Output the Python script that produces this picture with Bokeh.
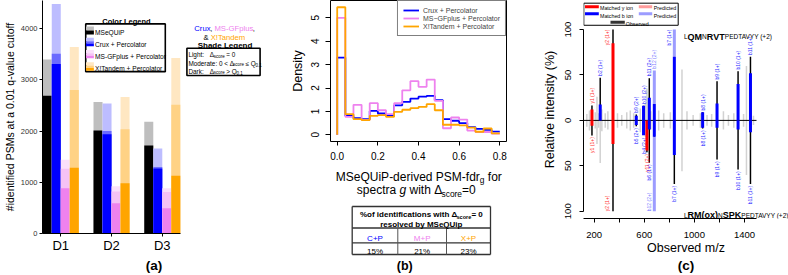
import numpy as np
from bokeh.plotting import figure
from bokeh.models import Range1d, FixedTicker, LinearAxis, Legend, LegendItem
from bokeh.layouts import row, column
from bokeh.embed import file_html
from bokeh.resources import INLINE
from bokeh.core.properties import value

FONT = "Liberation Sans"

# ------------------------------------------------------------------ data (a)
datasets = ["D1", "D2", "D3"]
methods = ["MSeQUiP", "Crux + Percolator", "MS-GFplus + Percolator", "X!Tandem + Percolator"]
mseq_dark = [2690, 2010, 1720]
mseq_total = [3400, 2570, 2180]
crux_dark = [3310, 1940, 1270]
crux_moderate = [3510, 2000, 1300]
crux_total = [4480, 2540, 1660]
msgf_dark = [885, 590, 495]
msgf_moderate = [1265, 820, 810]
msgf_total = [1440, 925, 885]
xt_dark = [1285, 980, 1130]
xt_moderate = [2800, 2035, 2515]
xt_total = [3640, 2665, 3425]
a_yticks = [0, 1000, 2000, 3000, 4000]

# ------------------------------------------------------------------ data (b)
fdr_bins = [0.00, 0.04, 0.08, 0.12, 0.16, 0.20, 0.24, 0.28, 0.32, 0.36, 0.40,
            0.44, 0.48, 0.52, 0.56, 0.60, 0.64, 0.68, 0.72, 0.76, 0.80]
crux_density = [3.30, 0.81, 0.71, 0.67, 1.02, 0.91, 0.84, 1.26, 1.41, 1.55,
                1.63, 1.66, 1.48, 0.67, 0.60, 0.50, 0.33, 0.25, 0.21, 0.14]
msgf_density = [5.00, 0.77, 1.28, 0.64, 1.35, 1.05, 0.88, 1.35, 1.90, 2.29,
                2.05, 2.36, 1.45, 0.28, 0.74, 0.65, 0.18, 0.12, 0.12, 0.05]
xt_density = [5.45, 0.88, 0.67, 0.63, 0.81, 0.84, 0.77, 0.98, 1.07, 1.14,
              1.19, 1.31, 1.05, 0.43, 0.43, 0.40, 0.31, 0.13, 0.27, 0.06]
hist_labels = ["Crux + Percolator", "MS\u2212GFplus + Percolator", "X!Tandem + Percolator"]
b_xticks = [0.0, 0.2, 0.4, 0.6, 0.8]
b_yticks = [0, 1, 2, 3, 4, 5]
table_heads = ["C+P", "M+P", "X+P"]
table_vals = ["15%", "21%", "23%"]

# ------------------------------------------------------------------ data (c)
obs_mz = [141, 162, 182, 208, 222, 235, 248, 261, 288, 309, 350, 386, 420, 460,
          488, 515, 536, 568, 594, 608, 621, 640, 652, 680, 715, 755, 808, 840,
          901, 941, 990, 1048, 1066, 1101, 1138, 1181, 1232, 1272, 1315, 1349,
          1393, 1416, 1448, 1472]
obs_int = [7, 11, 16.5, 9, 26, 8, 47, 12, 8, 10, 100, 8, 6, 9,
           11, 8, 6.5, 13, 16, 18, 35, 46.5, 10, 18, 11, 8, 9, 70,
           56, 10, 6, 8, 9, 6, 7, 43, 10, 6, 8, 54,
           7, 60, 70, 5]
top_mz = [182, 248, 350, 536, 594, 640, 680, 840, 1066, 1181, 1349, 1448]
top_pred = [12, 17.5, 85, 5, 16, 25, 55, 100, 9, 18.5, 40, 52]
top_ion = ["y", "b", "y", "b", "b", "b", "b", "b", "b", "b", "b", "b"]
top_label = ["y1 (1+)", "b2 (1+)", "y2 (1+)", "b9 (2+)", "b10 (2+)", "b11 (2+)",
             "b12 (2+)", "b7 (1+)", "b8 (1+)", "b9 (1+)", "b10 (1+)", "b11 (1+)"]
bot_mz = [182, 350, 536, 594, 621, 640, 680, 840, 1066, 1181, 1349, 1448]
bot_pred = [6, 26, 5, 17, 33, 10, 100, 38, 8, 8, 10, 13]
bot_ion = ["y", "y", "b", "b", "y", "b", "b", "b", "b", "b", "b", "b"]
bot_label = ["y1 (1+)", "y2 (1+)", "b5 (2+)", "b4 (2+)", "y11 (2+)", "b6 (1+)",
             "b12 (2+)", "b7 (1+)", "b8 (1+)", "b9 (1+)", "b10 (1+)", "b11 (1+)"]
c_yticks = [-100, -50, 0, 50, 100]
c_xticks = [200, 400, 600, 800, 1000, 1200, 1400]
c_xlabels = ["200", "", "600", "", "1000", "", "1400"]

# ------------------------------------------------------------------ colours
BLUE, VIOLET, ORANGE = "#0000ff", "#ee82ee", "#ffa500"
SHADES = {
    "mseq": ("#bebebe", None, "#000000"),
    "crux": ("#bdbdff", "#6b6bff", "#0000ff"),
    "msgf": ("#fae0fa", "#f5c2f5", "#ee82ee"),
    "xt": ("#ffe7c2", "#ffd285", "#ffa500"),
}

# ------------------------------------------------------------------ text helpers
_W = {' ': 278, '!': 278, '%': 889, '&': 667, '(': 333, ')': 333, '+': 584, ',': 278,
      '-': 333, '.': 278, '/': 278, ':': 278, '<': 584, '=': 584, '>': 584,
      'A': 667, 'B': 667, 'C': 722, 'D': 722, 'E': 667, 'F': 611, 'G': 778, 'H': 722,
      'I': 278, 'K': 667, 'L': 556, 'M': 833, 'N': 722, 'O': 778, 'P': 667, 'Q': 778,
      'R': 722, 'S': 667, 'T': 611, 'U': 722, 'V': 667, 'W': 944, 'X': 667, 'Y': 667,
      'a': 556, 'b': 556, 'c': 500, 'd': 556, 'e': 556, 'f': 278, 'g': 556, 'h': 556,
      'i': 222, 'j': 222, 'k': 500, 'l': 222, 'm': 833, 'n': 556, 'o': 556, 'p': 556,
      'q': 556, 'r': 333, 's': 500, 't': 278, 'u': 556, 'v': 500, 'w': 722, 'x': 500,
      'y': 500, 'z': 500, '\u0394': 612, '\u2264': 549, '\u2212': 584}
_WB = {'!': 333, 'A': 722, 'B': 722, 'K': 722, 'L': 611, 'b': 611, 'c': 556, 'd': 611,
       'f': 333, 'g': 611, 'h': 611, 'i': 278, 'j': 278, 'k': 556, 'l': 278, 'm': 889,
       'n': 611, 'o': 611, 'p': 611, 'q': 611, 'r': 389, 's': 556, 't': 333, 'u': 611,
       'v': 556, 'w': 778, 'x': 556, 'y': 556}


def tw(s, size, bold=False):
    tot = 0
    for ch in s:
        w = 556 if ch.isdigit() else _W.get(ch, 556)
        if bold:
            w = _WB.get(ch, w)
        tot += w
    return tot * size / 1000.0


def rich(p, fx, fy, x, y, pieces, align="left"):
    """pieces: (text, size, colour, style, dy); x, y in page pixels, y = baseline"""
    widths = [tw(t, s, "bold" in st) for (t, s, c, st, dy) in pieces]
    total = sum(widths)
    cur = x - total / 2 if align == "center" else (x - total if align == "right" else x)
    for (t, s, c, st, dy), w in zip(pieces, widths):
        lead = len(t) - len(t.lstrip(" "))
        shown = t.strip(" ")
        if shown:
            p.text(x=[fx(cur + tw(" " * lead, s))], y=[fy(y + dy)], text=[shown], text_font=value(FONT),
                   text_font_size=value(f"{s}px"), text_color=c,
                   text_font_style=value(st), text_align="left", text_baseline="alphabetic")
        cur += w


def base(yc, size):
    return yc + 0.35 * size


def style_axis(ax, tick_size, label_size, label_style="normal", tick_out=3,
               label_standoff=2, axis_standoff=2):
    ax.major_label_text_font = FONT
    ax.major_label_text_font_size = f"{tick_size}px"
    ax.major_label_text_color = "black"
    ax.axis_label_text_font = FONT
    ax.axis_label_text_font_size = f"{label_size}px"
    ax.axis_label_text_font_style = label_style
    ax.axis_label_text_color = "black"
    ax.minor_tick_line_color = None
    ax.major_tick_in = 0
    ax.major_tick_out = tick_out
    ax.axis_line_color = "black"
    ax.major_tick_line_color = "black"
    ax.major_label_standoff = label_standoff
    ax.axis_label_standoff = axis_standoff


COMMON = dict(output_backend="svg", toolbar_location=None, frame_align=False)

# ================================================================== panel (a)
A_L, A_R, A_T, A_B = 38, 265, 0, 239
A_PXU = 51.67
A_YMAX = 4550


def a_x(px):
    return 0.64 + (px - A_L) / A_PXU


def a_y(py):
    return (A_B - py) / (A_B - A_T) * A_YMAX


pa = figure(width=265, height=275, x_range=Range1d(0.64, a_x(A_R)), y_range=Range1d(0, A_YMAX),
            min_border_left=A_L, min_border_right=0, min_border_top=0, min_border_bottom=275 - A_B,
            outline_line_color=None, **COMMON)
pa.grid.visible = False
BW = 0.1775
xc = np.arange(1, len(datasets) + 1)
layers = [
    (0, mseq_total, SHADES["mseq"][0]), (0, mseq_dark, SHADES["mseq"][2]),
    (1, crux_total, SHADES["crux"][0]), (1, crux_moderate, SHADES["crux"][1]), (1, crux_dark, SHADES["crux"][2]),
    (2, msgf_total, SHADES["msgf"][0]), (2, msgf_moderate, SHADES["msgf"][1]), (2, msgf_dark, SHADES["msgf"][2]),
    (3, xt_total, SHADES["xt"][0]), (3, xt_moderate, SHADES["xt"][1]), (3, xt_dark, SHADES["xt"][2]),
]
for j, vals, col in layers:
    pa.vbar(x=xc + (j - 1.5) * BW, width=BW, bottom=0, top=vals, fill_color=col, line_color=None)

pa.xaxis.ticker = FixedTicker(ticks=list(xc))
pa.xaxis.major_label_overrides = {int(i): d for i, d in zip(xc, datasets)}
pa.xaxis.bounds = (0.64, 3.36)
pa.xaxis.axis_label = "(a)"
style_axis(pa.xaxis[0], 13, 13.5, "bold", tick_out=3, label_standoff=1, axis_standoff=2)
pa.yaxis.ticker = FixedTicker(ticks=a_yticks)
pa.yaxis.axis_label = "#identified PSMs at a 0.01 q-value cutoff"
style_axis(pa.yaxis[0], 7.5, 10.5)
pa.yaxis.major_label_text_color = "#333333"

# colour legend
pa.quad(left=[a_x(82)], right=[a_x(163)], top=[a_y(24)], bottom=[a_y(73)],
        fill_color="white", line_color="black", line_width=1.6)
rich(pa, a_x, a_y, 123, base(19.3, 7.5), [("Color Legend", 7.5, "black", "bold", 0)], "center")
keys = [("mseq", 26.7, 35.0), ("crux", 38.3, 47.0), ("msgf", 50.7, 59.3), ("xt", 63.3, 72.0)]
for (k, t0, t1), name in zip(keys, methods):
    light, mod, dark = SHADES[k]
    h = t1 - t0
    if mod is None:
        segs = [(t0, t0 + h / 2, light), (t0 + h / 2, t1, dark)]
    else:
        segs = [(t0, t0 + 0.4 * h, light), (t0 + 0.4 * h, t0 + 0.68 * h, mod), (t0 + 0.68 * h, t1, dark)]
    for s0, s1, c in segs:
        pa.quad(left=[a_x(82.3)], right=[a_x(90.3)], top=[a_y(s0)], bottom=[a_y(s1)],
                fill_color=c, line_color=None)
    rich(pa, a_x, a_y, 91.5, base((t0 + t1) / 2, 6.6), [(name, 6.6, "black", "normal", 0)])

# shade legend
S1 = 7.7
rich(pa, a_x, a_y, 223.3, base(26.0, S1),
     [("Crux", S1, BLUE, "normal", 0), (", ", S1, "black", "normal", 0),
      ("MS-GFplus", S1, VIOLET, "normal", 0), (",", S1, "black", "normal", 0)], "center")
rich(pa, a_x, a_y, 223.3, base(35.0, S1),
     [("& ", S1, "black", "normal", 0), ("X!Tandem", S1, ORANGE, "normal", 0)], "center")
rich(pa, a_x, a_y, 223.3, base(43.5, 8), [("Shade Legend", 8, "black", "bold", 0)], "center")
pa.quad(left=[a_x(185)], right=[a_x(259.5)], top=[a_y(49)], bottom=[a_y(77)],
        fill_color="white", line_color="black", line_width=1.6)
S2, SS = 6.4, 4.5
sub = ("score", SS, "black", "normal", 1.9)
rich(pa, a_x, a_y, 186.5, base(53.6, S2), [("Light:", S2, "black", "normal", 0)])
rich(pa, a_x, a_y, 208.3, base(53.6, S2), [("\u0394", S2, "black", "normal", 0), sub,
                                           (" = 0", S2, "black", "normal", 0)])
rich(pa, a_x, a_y, 186.5, base(62.0, S2), [("Moderate: 0 < \u0394", S2, "black", "normal", 0), sub,
                                           (" \u2264 Q", S2, "black", "normal", 0),
                                           ("0.1", SS, "black", "normal", 1.9)])
rich(pa, a_x, a_y, 186.5, base(70.2, S2), [("Dark:", S2, "black", "normal", 0)])
rich(pa, a_x, a_y, 208.3, base(70.2, S2), [("\u0394", S2, "black", "normal", 0), sub,
                                           (" > Q", S2, "black", "normal", 0),
                                           ("0.1", SS, "black", "normal", 1.9)])

# ================================================================== panel (b)
B_L, B_R = 65, 24
pb = figure(width=265, height=163, x_range=Range1d(-0.033, 0.833), y_range=Range1d(-0.286, 5.739),
            min_border_left=B_L, min_border_right=B_R, min_border_top=0, min_border_bottom=22,
            outline_line_color="black", outline_line_width=1, **COMMON)
pb.grid.visible = False
renderers = []
for vals, col in [(crux_density, BLUE), (msgf_density, VIOLET), (xt_density, ORANGE)]:
    xs = [fdr_bins[0]] + list(fdr_bins)
    ys = [0] + list(vals) + [vals[-1]]
    renderers.append(pb.step(x=xs, y=ys, mode="after", line_color=col, line_width=1.8))
leg = Legend(items=[LegendItem(label=l, renderers=[r]) for l, r in zip(hist_labels, renderers)],
             location="top_right", margin=0, padding=5, spacing=0, label_height=8,
             glyph_height=8, glyph_width=16, label_standoff=4,
             label_text_font=FONT, label_text_font_size="7px",
             border_line_color="black", border_line_width=1, background_fill_alpha=1)
pb.add_layout(leg)
pb.xaxis.ticker = FixedTicker(ticks=b_xticks)
pb.xaxis.major_label_overrides = {v: f"{v:.1f}" for v in b_xticks}
pb.xaxis.bounds = (0, 0.8)
style_axis(pb.xaxis[0], 10, 10, tick_out=4, label_standoff=6)
pb.yaxis.ticker = FixedTicker(ticks=b_yticks)
pb.yaxis.bounds = (0, 5)
pb.yaxis.axis_label = "Density"
pb.yaxis.major_label_orientation = "vertical"
style_axis(pb.yaxis[0], 10, 12.5, tick_out=5, label_standoff=6, axis_standoff=4)

# lower part of panel (b): page pixel coordinates inside the frame
pbn = figure(width=265, height=112, x_range=Range1d(265, 530), y_range=Range1d(275, 163),
             x_axis_location=None, y_axis_location=None,
             min_border_left=0, min_border_right=0, min_border_top=0, min_border_bottom=0,
             outline_line_color=None, **COMMON)
pbn.grid.visible = False
ident = (lambda v: v)
FS = 12
rich(pbn, ident, ident, 418.3, 176.3,
     [("MSeQUiP-derived PSM-fdr", FS, "black", "normal", 0), ("g", 8.4, "black", "normal", 3.5),
      (" for", FS, "black", "normal", 0)], "center")
rich(pbn, ident, ident, 415.8, 189.5,
     [("spectra ", FS, "black", "normal", 0), ("g", FS, "black", "italic", 0),
      (" with \u0394", FS, "black", "normal", 0), ("score", 8.4, "black", "normal", 3.5),
      ("=0", FS, "black", "normal", 0)], "center")
TL, TR = 351.7, 490.0
T0, T1, T2, T3 = 206.0, 227.5, 242.3, 254.0
CD1, CD2 = 397.3, 446.0
pbn.segment(x0=[TL, TL, TL, TL, TL, TR], y0=[T0, T1, T2, T3, T0, T0],
            x1=[TR, TR, TR, TR, TL, TR], y1=[T0, T1, T2, T3, T3, T3],
            line_color="#333333", line_width=1.3)
pbn.segment(x0=[CD1, CD2], y0=[T1, T1], x1=[CD1, CD2], y1=[T3, T3], line_color="#555555", line_width=1)
HS = 8
rich(pbn, ident, ident, (TL + TR) / 2, base(211.2, HS),
     [("%of identifications with \u0394", HS, "black", "bold", 0), ("score", 5.6, "black", "bold", 2.3),
      ("= 0", HS, "black", "bold", 0)], "center")
rich(pbn, ident, ident, (TL + TR) / 2, base(221.2, HS),
     [("resolved by MSeQUip", HS, "black", "bold", 0)], "center")
col_c = [(TL + CD1) / 2, (CD1 + CD2) / 2, (CD2 + TR) / 2]
for cx, hd, vv, colr in zip(col_c, table_heads, table_vals, [BLUE, VIOLET, ORANGE]):
    rich(pbn, ident, ident, cx, base(235.0, 8), [(hd, 8, colr, "normal", 0)], "center")
    rich(pbn, ident, ident, cx, base(248.3, 8), [(vv, 8, "black", "normal", 0)], "center")
rich(pbn, ident, ident, 404.2, base(261.5, 12.5), [("(b)", 12.5, "black", "bold", 0)], "center")

# ================================================================== panel (c)
C_L, C_R, C_T, C_B = 583, 788, 0, 220
C_X0, C_PXX = 114.4, 0.1252
C_Y0, C_Y1 = -108, 132
C_PXY = (C_B - C_T) / (C_Y1 - C_Y0)


def c_x(px):
    return C_X0 + (px - C_L) / C_PXX


def c_y(py):
    return C_Y1 - (py - C_T) / C_PXY


pc = figure(width=258, height=275, x_range=Range1d(C_X0, c_x(C_R)), y_range=Range1d(C_Y0, C_Y1),
            min_border_left=C_L - 530, min_border_right=0, min_border_top=0, min_border_bottom=275 - C_B,
            outline_line_color=None, **COMMON)
pc.grid.visible = False
GRAY, BLACK = "#d2d2d2", "#000000"
RED, LRED, LBLUE = "#ff0000", "#ff9c9c", "#9c9cff"
obs = dict(zip(obs_mz, obs_int))
pc.segment(x0=obs_mz, y0=0, x1=obs_mz, y1=obs_int, line_color=GRAY, line_width=1.5)
pc.segment(x0=obs_mz, y0=0, x1=obs_mz, y1=[-v for v in obs_int], line_color=GRAY, line_width=1.5)
pc.segment(x0=[C_X0], y0=[0], x1=[c_x(756)], y1=[0], line_color="black", line_width=1)
top_obs = [obs[m] for m in top_mz]
bot_obs = [obs[m] for m in bot_mz]
pc.segment(x0=top_mz, y0=0, x1=top_mz, y1=top_obs, line_color=BLACK, line_width=1.4)
pc.segment(x0=bot_mz, y0=0, x1=bot_mz, y1=[-v for v in bot_obs], line_color=BLACK, line_width=1.4)
for sign, mzs, preds, ions, labels in [(1, top_mz, top_pred, top_ion, top_label),
                                       (-1, bot_mz, bot_pred, bot_ion, bot_label)]:
    for m, pr, ion, lab in zip(mzs, preds, ions, labels):
        o = obs[m]
        dark = RED if ion == "y" else BLUE
        light = LRED if ion == "y" else LBLUE
        if pr > o:
            pc.segment(x0=[m], y0=[sign * o], x1=[m], y1=[sign * pr], line_color=light, line_width=3)
        pc.segment(x0=[m], y0=[0], x1=[m], y1=[sign * min(o, pr)], line_color=dark, line_width=3)
        hi = max(o, pr)
        if o >= 0.5 * pr:
            lcol = "#ff3030" if ion == "y" else "#3030ff"
        else:
            lcol = "#ff8080" if ion == "y" else "#8080ff"
        if hi > 90:
            lx, ly = m - 45, sign * 100
            al = "right" if sign > 0 else "left"
        else:
            lx, ly = m, sign * (hi + 2)
            al = "left" if sign > 0 else "right"
        pc.text(x=[lx], y=[ly], text=[lab], angle=np.pi / 2, text_align=al, text_baseline="middle",
                text_font=value(FONT), text_font_size=value("5px"), text_color=lcol)

pc.xaxis.ticker = FixedTicker(ticks=c_xticks)
pc.xaxis.major_label_overrides = dict(zip(c_xticks, c_xlabels))
pc.xaxis.bounds = (C_X0, c_x(756))
pc.xaxis.axis_label = "Observed m/z"
style_axis(pc.xaxis[0], 9.5, 12.5, tick_out=4, label_standoff=9, axis_standoff=0)
pc.yaxis.ticker = FixedTicker(ticks=c_yticks)
pc.yaxis.major_label_overrides = {v: str(abs(v)) for v in c_yticks}
pc.yaxis.bounds = (-100, 100)
pc.yaxis.axis_label = "Relative intensity (%)"
pc.yaxis.major_label_orientation = "vertical"
style_axis(pc.yaxis[0], 9.5, 12.5, tick_out=4, label_standoff=8, axis_standoff=6)
ax2 = LinearAxis(axis_label="(c)", ticker=FixedTicker(ticks=[]), axis_line_color=None,
                 major_tick_out=0, major_tick_in=0, minor_tick_out=0, minor_tick_in=0,
                 major_label_text_font_size="0px", major_label_standoff=0, axis_label_standoff=0,
                 axis_label_text_font=FONT, axis_label_text_font_size="13.5px",
                 axis_label_text_font_style="bold", axis_label_text_color="black")
pc.add_layout(ax2, "below")

# legend (c)
pc.quad(left=[c_x(583.3)], right=[c_x(677.7)], top=[c_y(2.7)], bottom=[c_y(25.0)],
        fill_color="white", line_color="black", line_width=1)
LS = 5.3
for yc, c1, t1, c2 in [(6.2, RED, "Matched y ion", LRED), (13.4, BLUE, "Matched b ion", LBLUE)]:
    pc.segment(x0=[c_x(584.5)], y0=[c_y(yc)], x1=[c_x(598.3)], y1=[c_y(yc)], line_color=c1, line_width=3)
    rich(pc, c_x, c_y, 599.5, base(yc, LS), [(t1, LS, "black", "normal", 0)])
    pc.segment(x0=[c_x(638.3)], y0=[c_y(yc)], x1=[c_x(651.7)], y1=[c_y(yc)], line_color=c2, line_width=3)
    rich(pc, c_x, c_y, 653.3, base(yc, LS), [("Predicted", LS, "black", "normal", 0)])
pc.segment(x0=[c_x(610.0)], y0=[c_y(22.0)], x1=[c_x(624.3)], y1=[c_y(22.0)], line_color="#333333", line_width=3)
rich(pc, c_x, c_y, 625.3, base(22.0, LS), [("Observed", LS, "black", "normal", 0)])

# peptide labels
SM, BG = 6.5, 9
rich(pc, c_x, c_y, 683.5, 36.5,
     [("L", SM, "black", "normal", 0), ("QM", BG, "black", "bold", 0), ("N", SM, "black", "normal", 0),
      ("RVT", BG, "black", "bold", 0), ("PEDTAVYY (+2)", SM, "black", "normal", 0)])
rich(pc, c_x, c_y, 683.5, 216.8,
     [("L", SM, "black", "normal", 0), ("RM(ox)", BG, "black", "bold", 0), ("N", SM, "black", "normal", 0),
      ("SPK", BG, "black", "bold", 0), ("PEDTAVYY (+2)", SM, "black", "normal", 0)])

layout = row(pa, column(pb, pbn), pc)
open("out.html", "w").write(file_html(layout, INLINE))
